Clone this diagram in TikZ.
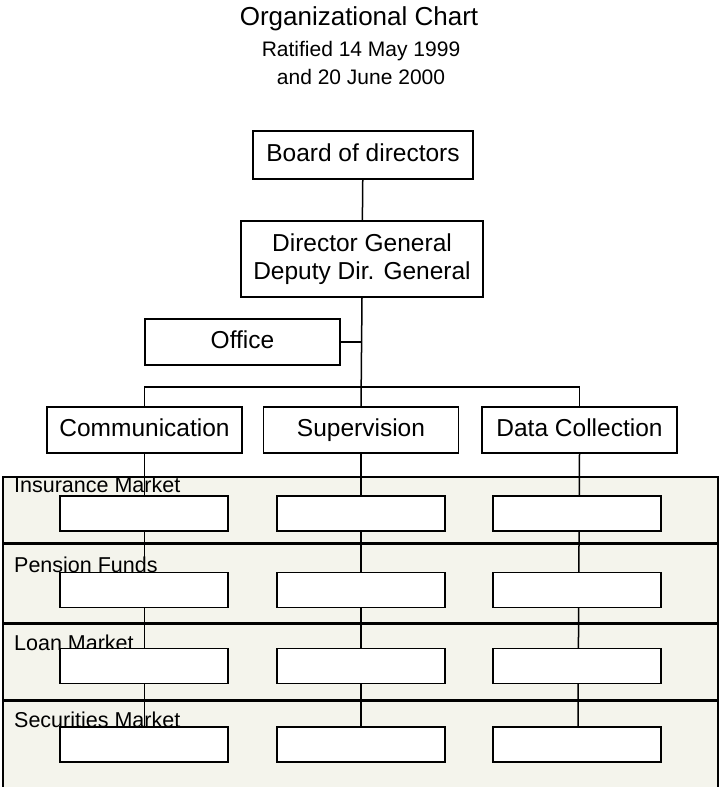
\documentclass[tikz,border=0pt]{standalone}
\usepackage{fontspec}
\setmainfont{Liberation Sans}
\definecolor{lanefill}{RGB}{244,244,236}

\begin{document}
\begin{tikzpicture}
[x=1pt, y=-1pt,
every node/.style={font=\fontsize{24.5}{28}\selectfont},
box/.style={draw, fill=white, line width=1.5pt, minimum width=195pt,
  minimum height=46pt, inner sep=0pt, align=center},
unit/.style={box, text height=17.5pt, text depth=5pt},
slot/.style={draw, fill=white, line width=1.5pt, minimum width=168pt,
  minimum height=35pt, inner sep=0pt},
market/.style={anchor=base west, inner sep=0pt, font=\fontsize{21.5}{24}\selectfont},
heading/.style={anchor=base, inner sep=0pt},
]
\useasboundingbox (0,0) rectangle (721,787);

% the four market lanes
\fill[lanefill] (3,477) rectangle (718,790);
\draw[line width=1.5pt] (3,790) |- (718,477) -- (718,790);
\draw[line width=3pt] (3,543) -- (718,543);
\draw[line width=3pt] (3,623) -- (718,623);
\draw[line width=3pt] (3,700) -- (718,700);

\node[heading, font=\fontsize{26}{30}\selectfont] (title) at (359,25) {Organizational Chart};
\node[heading, font=\fontsize{21}{24}\selectfont] (ratified) at (361,56) {Ratified 14 May 1999};
\node[heading, font=\fontsize{21}{24}\selectfont] (june) at (361,84) {and 20 June 2000};

\node[unit, minimum width=220pt, minimum height=48pt] (board) at (363,155) {Board of directors};
\node[box, minimum width=242pt, minimum height=76pt] (dg) at (362,259)
  {Director General\\Deputy Dir. General};
\node[unit] (office) at (242.5,342) {Office};
\node[unit] (comm) at (144.5,430) {Communication};
\node[unit] (super) at (361,430) {Supervision};
\node[unit] (data) at (579.5,430) {Data Collection};
\coordinate (bus) at (362,387);

\node[market] (insurance) at (14,492) {Insurance Market};
\node[market] (pension) at (14,572) {Pension Funds};
\node[market] (loan) at (14,650) {Loan Market};
\node[market] (securities) at (14,727) {Securities Market};

\draw[line width=1.5pt] (board) -- (dg);
\draw[line width=1.5pt] (dg.south) -- (super.north);
\draw[line width=1.5pt] (office.east) -- (office.east -| dg.south);
\draw[line width=1.5pt] (comm.north) |- (bus) -| (data.north);

% columns of empty boxes
\draw[line width=1.5pt] (comm.south) -- (144.5,727);
\draw[line width=1.5pt] (super.south) -- (361,727);
\draw[line width=1.5pt] (data.south) -- (578,727);

\node[slot] (ins1) at (144,513.5) {};
\node[slot] (ins2) at (361,513.5) {};
\node[slot] (ins3) at (577,513.5) {};
\node[slot] (pen1) at (144,590) {};
\node[slot] (pen2) at (361,590) {};
\node[slot] (pen3) at (577,590) {};
\node[slot] (loan1) at (144,666) {};
\node[slot] (loan2) at (361,666) {};
\node[slot] (loan3) at (577,666) {};
\node[slot] (sec1) at (144,744.5) {};
\node[slot] (sec2) at (361,744.5) {};
\node[slot] (sec3) at (577,744.5) {};
\end{tikzpicture}
\end{document}
